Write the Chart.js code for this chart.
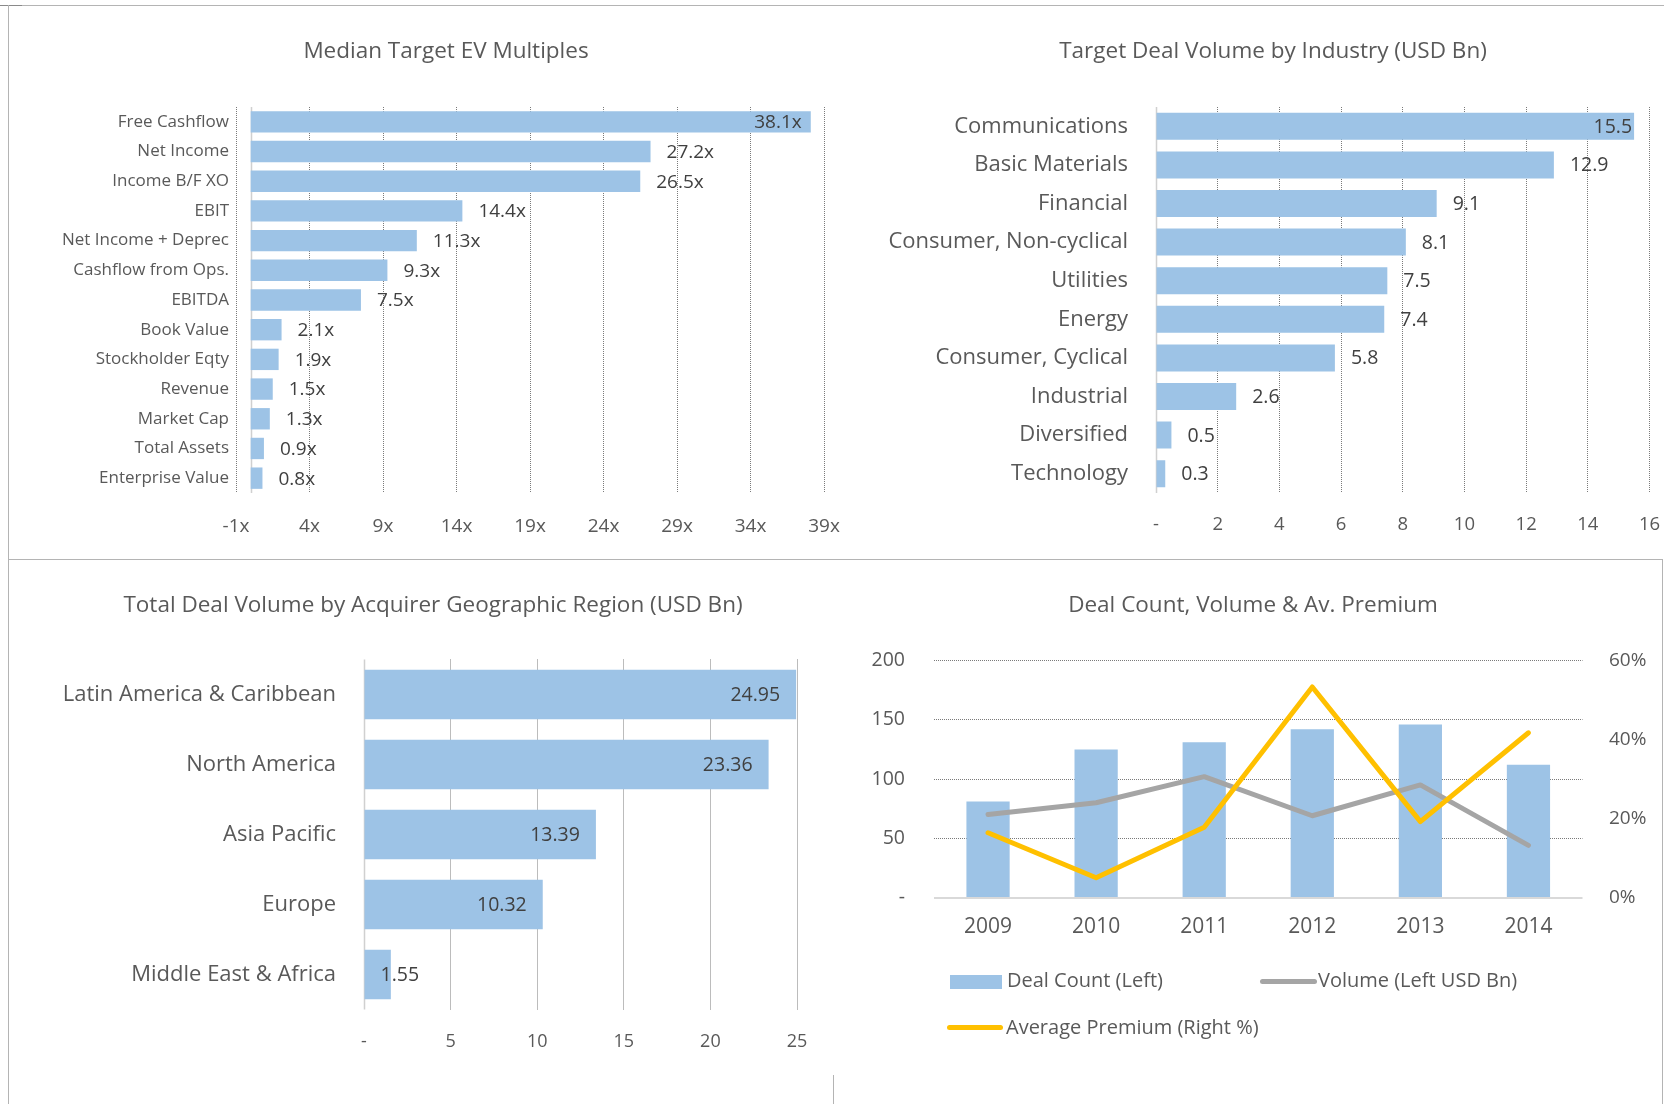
<!DOCTYPE html>
<html><head><meta charset="utf-8">
<script src="https://cdn.jsdelivr.net/npm/chart.js@4.4.1/dist/chart.umd.min.js"></script>
<style>
html,body{margin:0;padding:0;background:#fff;}
body{width:1673px;height:1104px;position:relative;overflow:hidden;font-family:"Open Sans",sans-serif;color:#595959;}
.box{position:absolute;}
.ln{position:absolute;background:#b4b4b4;}
.lg{position:absolute;font-size:20px;line-height:24px;white-space:nowrap;color:#595959;}
.sw{position:absolute;}
</style></head><body>
<div class="ln" style="left:8px;top:5px;width:1656px;height:1px"></div>
<div class="ln" style="left:0px;top:5px;width:22px;height:1px;background:#8a8a8a"></div>
<div class="ln" style="left:8px;top:5px;width:1px;height:1099px"></div>
<div class="ln" style="left:8px;top:559px;width:1655px;height:1px"></div>
<div class="ln" style="left:1662px;top:559px;width:1px;height:545px"></div>
<div class="ln" style="left:833px;top:1075px;width:1px;height:29px"></div>

<div class="box" style="left:0;top:0;width:880px;height:558px"><canvas id="c1"></canvas></div>
<div class="box" style="left:836px;top:0;width:860px;height:558px"><canvas id="c2"></canvas></div>
<div class="box" style="left:0;top:560px;width:833px;height:544px"><canvas id="c3"></canvas></div>
<div class="box" style="left:836px;top:560px;width:837px;height:544px"><canvas id="c4"></canvas></div>

<div class="sw" style="left:950px;top:975px;width:52px;height:14px;background:#9dc3e6"></div>
<div class="lg" style="left:1007px;top:968px">Deal Count (Left)</div>
<div class="sw" style="left:1260px;top:979px;width:57px;height:5px;border-radius:3px;background:#a5a5a5"></div>
<div class="lg" style="left:1318px;top:968px">Volume (Left USD Bn)</div>
<div class="sw" style="left:947px;top:1025px;width:56px;height:5px;border-radius:3px;background:#ffc000"></div>
<div class="lg" style="left:1006px;top:1015px">Average Premium (Right %)</div>

<script>
// ---------- DATA ----------
const evCategories = ["Free Cashflow","Net Income","Income B/F XO","EBIT","Net Income + Deprec","Cashflow from Ops.","EBITDA","Book Value","Stockholder Eqty","Revenue","Market Cap","Total Assets","Enterprise Value"];
const evValues = [38.1,27.2,26.5,14.4,11.3,9.3,7.5,2.1,1.9,1.5,1.3,0.9,0.8];
const evTicks = [-1,4,9,14,19,24,29,34,39];

const industryCategories = ["Communications","Basic Materials","Financial","Consumer, Non-cyclical","Utilities","Energy","Consumer, Cyclical","Industrial","Diversified","Technology"];
const industryValues = [15.5,12.9,9.1,8.1,7.5,7.4,5.8,2.6,0.5,0.3];

const regionCategories = ["Latin America & Caribbean","North America","Asia Pacific","Europe","Middle East & Africa"];
const regionValues = [24.95,23.36,13.39,10.32,1.55];

const years = ["2009","2010","2011","2012","2013","2014"];
const dealCount = [81,125,131,142,146,112];
const volume = [70,80,102,69,95,44];
const premium = [16.4,5.0,17.8,53.3,19.2,41.7];

// ---------- STYLE ----------
const FONT = '"Open Sans", sans-serif';
Chart.defaults.font.family = FONT;
Chart.defaults.color = '#595959';
const BAR = '#9dc3e6';
const GRID = '#7a7a7a';
const DASH = [1,1];

const panelTitle = {
  id: 'panelTitle',
  afterDraw(chart, args, o) {
    if (!o || !o.text) return;
    const ctx = chart.ctx;
    ctx.save();
    ctx.font = o.size + 'px ' + FONT;
    ctx.fillStyle = '#595959'; ctx.textAlign = 'center'; ctx.textBaseline = 'middle';
    ctx.fillText(o.text, o.x, o.y);
    ctx.restore();
  }
};

const zeroLine = {
  id: 'zeroLine',
  beforeDatasetsDraw(chart, args, o) {
    if (!o || !o.axis) return;
    const s = chart.scales[o.axis];
    const {ctx, chartArea: a} = chart;
    ctx.save();
    ctx.strokeStyle = o.color; ctx.lineWidth = o.width;
    ctx.beginPath();
    if (s.isHorizontal()) {
      const x = Math.round(s.getPixelForValue(0)) + 0.5;
      ctx.moveTo(x, a.top); ctx.lineTo(x, a.bottom);
    } else {
      const y = Math.round(s.getPixelForValue(0));
      ctx.moveTo(a.left, y); ctx.lineTo(a.right, y);
    }
    ctx.stroke(); ctx.restore();
  }
};

const barLabels = {
  id: 'barLabels',
  afterDatasetsDraw(chart, args, o) {
    if (!o || !o.size) return;
    const {ctx, chartArea: a} = chart;
    const meta = chart.getDatasetMeta(0);
    const data = chart.data.datasets[0].data;
    ctx.save();
    ctx.font = o.size + 'px ' + FONT;
    ctx.fillStyle = o.color; ctx.textBaseline = 'middle'; ctx.textAlign = 'left';
    meta.data.forEach((el, i) => {
      const t = data[i].toFixed(o.dec) + (o.suffix || '');
      const w = ctx.measureText(t).width;
      let x;
      if (o.mode === 'inside') {
        x = el.x - o.inset - w;
        if (x < el.base + o.minStart) x = el.base + o.minStart;
      } else {
        x = el.x + o.gap;
        if (x + w > a.right) x = el.x - o.inset - w;
      }
      ctx.fillText(t, x, el.y + 1);
    });
    ctx.restore();
  }
};

function hbar(id, cats, vals, cfg) {
  return new Chart(document.getElementById(id), {
    type: 'bar',
    data: { labels: cats, datasets: [{ data: vals, backgroundColor: BAR, categoryPercentage: 1, barPercentage: cfg.barPct }] },
    plugins: [zeroLine, barLabels, panelTitle],
    options: {
      indexAxis: 'y', responsive: true, maintainAspectRatio: false, animation: false,
      layout: { padding: { left: 0, right: cfg.R, top: cfg.T, bottom: 0 } },
      plugins: {
        legend: { display: false }, tooltip: { enabled: false }, title: { display: false },
        panelTitle: { text: cfg.title, x: cfg.tx, y: cfg.ty, size: 22.5 },
        zeroLine: { axis: 'x', color: '#d0d0d0', width: 1.5 },
        barLabels: cfg.labels
      },
      scales: {
        x: {
          min: cfg.min, max: cfg.max,
          afterBuildTicks: cfg.ticks ? (s) => { s.ticks = cfg.ticks.map(v => ({ value: v })); } : undefined,
          afterFit: (s) => { s.height = cfg.xH; },
          ticks: { stepSize: cfg.step, padding: cfg.xPad, color: '#595959', font: { size: cfg.xFont }, callback: cfg.fmt },
          grid: { drawTicks: false, lineWidth: 1, color: (c) => (c.tick && c.tick.value === 0) ? 'rgba(0,0,0,0)' : GRID },
          border: { display: false, dash: DASH }
        },
        y: {
          afterFit: (s) => { s.width = cfg.yW; },
          ticks: { padding: cfg.yPad, color: '#595959', font: { size: cfg.yFont } },
          grid: { display: false, drawTicks: false },
          border: { display: false }
        }
      }
    }
  });
}

hbar('c1', evCategories, evValues, {
  barPct: 0.72, R: 56, T: 107, yW: 236, xH: 65, tx: 446, ty: 51.5,
  title: 'Median Target EV Multiples', min: -1, max: 39, ticks: evTicks,
  fmt: (v) => v + 'x', xPad: 22, xFont: 19, yPad: 7, yFont: 17,
  labels: { size: 19, color: '#404040', dec: 1, suffix: 'x', mode: 'outside', gap: 16, inset: 9 }
});

hbar('c2', industryCategories, industryValues, {
  barPct: 0.70, R: 46.5, T: 107, yW: 320, xH: 65, tx: 437, ty: 51.5,
  title: 'Target Deal Volume by Industry (USD Bn)', min: 0, max: 16, step: 2,
  fmt: (v) => v === 0 ? '-' : v, xPad: 21, xFont: 18.5, yPad: 28, yFont: 22,
  labels: { size: 19.5, color: '#404040', dec: 1, suffix: '', mode: 'outside', gap: 16, inset: 2 }
});

hbar('c3', regionCategories, regionValues, {
  barPct: 0.71, R: 36, T: 99.5, yW: 364, xH: 94.5, tx: 433, ty: 46,
  title: 'Total Deal Volume by Acquirer Geographic Region (USD Bn)', min: 0, max: 25, step: 5,
  fmt: (v) => v === 0 ? '-' : v, xPad: 21.5, xFont: 18, yPad: 28, yFont: 22,
  labels: { size: 19.5, color: '#404040', dec: 2, suffix: '', mode: 'inside', inset: 16, minStart: 16 }
});

new Chart(document.getElementById('c4'), {
  data: {
    labels: years,
    datasets: [
      { type: 'bar', label: 'Deal Count (Left)', data: dealCount, backgroundColor: BAR, yAxisID: 'y', order: 3, categoryPercentage: 1, barPercentage: 0.4 },
      { type: 'line', label: 'Volume (Left USD Bn)', data: volume, borderColor: '#a5a5a5', backgroundColor: '#a5a5a5', borderWidth: 5, pointRadius: 0, tension: 0, borderJoinStyle: 'round', borderCapStyle: 'round', yAxisID: 'y', order: 2 },
      { type: 'line', label: 'Average Premium (Right %)', data: premium, borderColor: '#ffc000', backgroundColor: '#ffc000', borderWidth: 5, pointRadius: 0, tension: 0, borderJoinStyle: 'round', borderCapStyle: 'round', yAxisID: 'y1', order: 1 }
    ]
  },
  plugins: [zeroLine, panelTitle],
  options: {
    responsive: true, maintainAspectRatio: false, animation: false,
    layout: { padding: { left: 0, right: 0, top: 100.5, bottom: 0 } },
    plugins: {
      legend: { display: false }, tooltip: { enabled: false }, title: { display: false },
      panelTitle: { text: 'Deal Count, Volume & Av. Premium', x: 417, y: 46, size: 22.5 },
      zeroLine: { axis: 'y', color: '#d9d9d9', width: 2 }
    },
    scales: {
      x: {
        afterFit: (s) => { s.height = 206.5; },
        ticks: { padding: 17, color: '#595959', font: { size: 21 } },
        grid: { display: false, drawTicks: false }, border: { display: false }
      },
      y: {
        position: 'left', min: 0, max: 200,
        afterFit: (s) => { s.width = 98; },
        ticks: { stepSize: 50, padding: 29, color: '#595959', font: { size: 19.5 }, callback: (v) => v === 0 ? '-' : v },
        grid: { drawTicks: false, color: (c) => (c.tick && c.tick.value === 0) ? 'rgba(0,0,0,0)' : GRID },
        border: { display: false, dash: DASH }
      },
      y1: {
        position: 'right', min: 0, max: 60,
        afterFit: (s) => { s.width = 90.5; },
        ticks: { stepSize: 20, padding: 26.5, color: '#595959', font: { size: 19 }, callback: (v) => v + '%' },
        grid: { display: false, drawTicks: false }, border: { display: false }
      }
    }
  }
});
</script>
</body></html>
